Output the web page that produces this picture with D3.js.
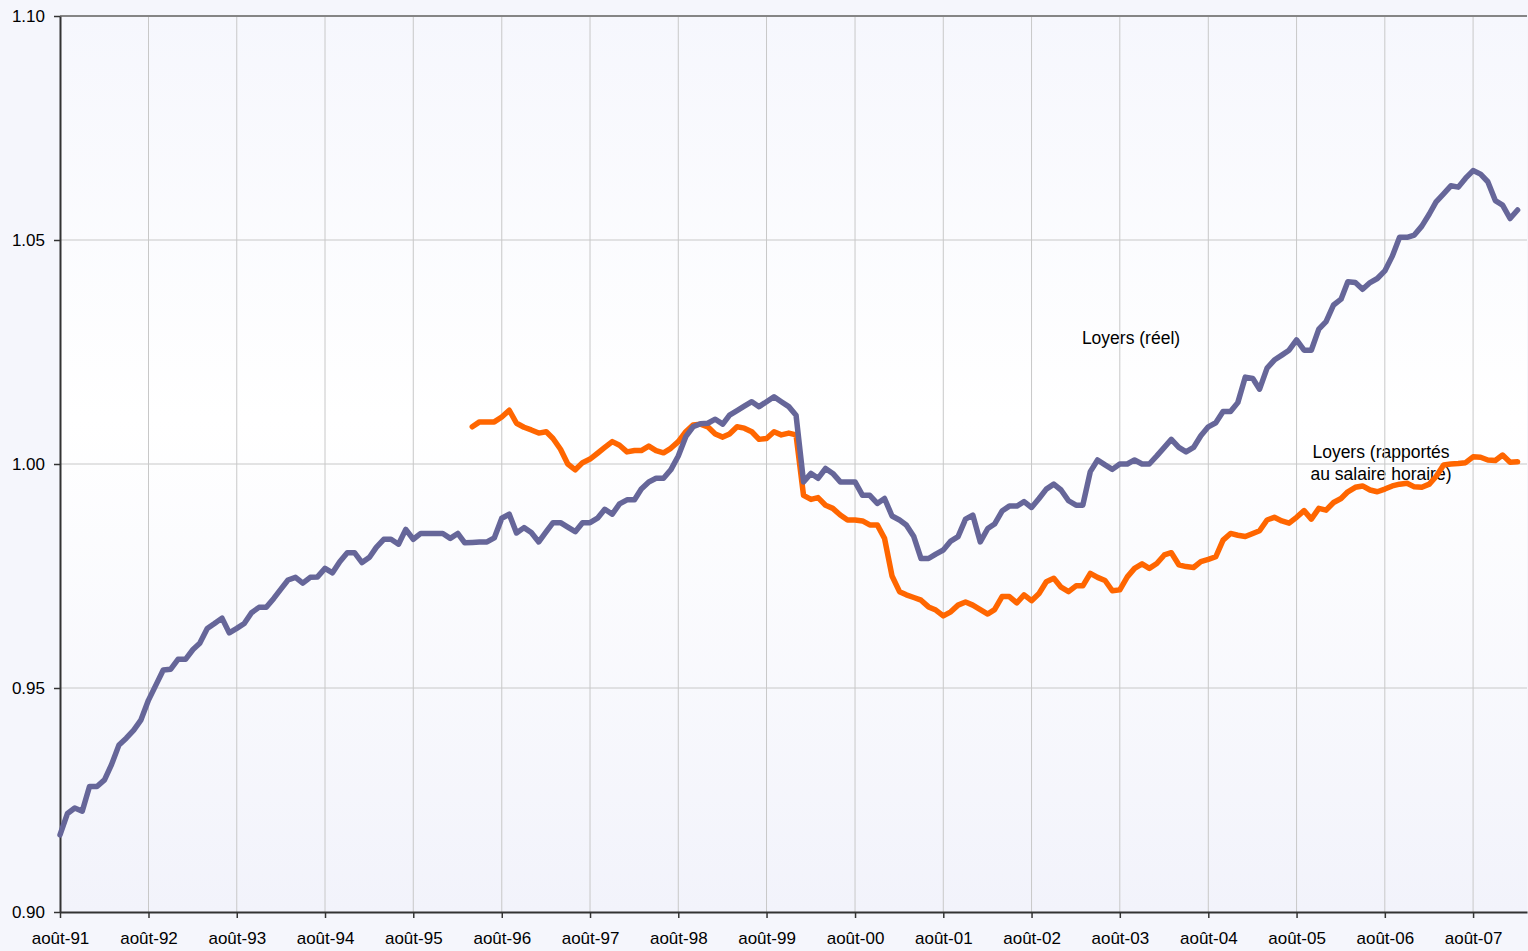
<!DOCTYPE html>
<html>
<head>
<meta charset="utf-8">
<script src="https://cdn.jsdelivr.net/npm/d3@7"></script>
<style>
  html, body { margin: 0; padding: 0; background: #f5f6fc; }
  svg { display: block; font-family: "Liberation Sans", Arial, sans-serif; }
</style>
</head>
<body>
<div id="chart"></div>
<script>
// Monthly series, starting août-91
const startMonth = new Date(1991, 7, 1);

const loyersReel = [
  0.9172, 0.9220, 0.9232, 0.9225, 0.9280, 0.9280, 0.9295, 0.9329, 0.9373, 0.9388, 0.9406, 0.9429,
  0.9473, 0.9507, 0.9540, 0.9542, 0.9564, 0.9564, 0.9586, 0.9600, 0.9633, 0.9644, 0.9656, 0.9623,
  0.9633, 0.9644, 0.9668, 0.9680, 0.9680, 0.9700, 0.9722, 0.9741, 0.9747, 0.9734, 0.9747, 0.9748,
  0.9767, 0.9757, 0.9782, 0.9802, 0.9802, 0.9780, 0.9792, 0.9814, 0.9832, 0.9832, 0.9821, 0.9854,
  0.9832, 0.9845, 0.9845, 0.9845, 0.9845, 0.9834, 0.9845, 0.9824, 0.9825, 0.9826, 0.9826, 0.9835,
  0.9879, 0.9888, 0.9846, 0.9858, 0.9847, 0.9826, 0.9849, 0.9869, 0.9869, 0.9859, 0.9849, 0.9869,
  0.9869, 0.9879, 0.9899, 0.9888, 0.9911, 0.9920, 0.9920, 0.9944, 0.9960, 0.9968, 0.9968, 0.9987,
  1.0018, 1.0061, 1.0083, 1.0090, 1.0091, 1.0100, 1.0089, 1.0109, 1.0119, 1.0129, 1.0139, 1.0128,
  1.0139, 1.0150, 1.0139, 1.0128, 1.0109, 0.9960, 0.9979, 0.9968, 0.9990, 0.9979, 0.9960, 0.9960,
  0.9960, 0.9930, 0.9930, 0.9912, 0.9923, 0.9884, 0.9875, 0.9864, 0.9838, 0.9789, 0.9789, 0.9799,
  0.9808, 0.9828, 0.9838, 0.9877, 0.9886, 0.9826, 0.9856, 0.9866, 0.9895, 0.9906, 0.9906, 0.9916,
  0.9903, 0.9923, 0.9944, 0.9955, 0.9942, 0.9918, 0.9908, 0.9908, 0.9983, 1.0009, 0.9998, 0.9988,
  1.0000, 1.0000, 1.0009, 1.0000, 1.0000, 1.0018, 1.0037, 1.0055, 1.0037, 1.0027, 1.0037, 1.0063,
  1.0083, 1.0092, 1.0117, 1.0117, 1.0137, 1.0194, 1.0191, 1.0167, 1.0214, 1.0232, 1.0243, 1.0254,
  1.0277, 1.0254, 1.0254, 1.0301, 1.0318, 1.0355, 1.0368, 1.0407, 1.0405, 1.0390, 1.0405, 1.0414,
  1.0431, 1.0464, 1.0506, 1.0506, 1.0511, 1.0531, 1.0558, 1.0585, 1.0603, 1.0621, 1.0618, 1.0638,
  1.0655, 1.0647, 1.0630, 1.0588, 1.0578, 1.0548, 1.0567
];

// starts 56 months later (avril-96)
const salaireOffset = 56;
const loyersSalaire = [
  1.0083, 1.0094, 1.0094, 1.0094,
  1.0105, 1.0120, 1.0091, 1.0082, 1.0076, 1.0069, 1.0072, 1.0057, 1.0033, 1.0000, 0.9987, 1.0003,
  1.0011, 1.0024, 1.0037, 1.0050, 1.0042, 1.0027, 1.0030, 1.0030, 1.0040, 1.0030, 1.0025, 1.0035,
  1.0050, 1.0072, 1.0087, 1.0089, 1.0083, 1.0067, 1.0060, 1.0067, 1.0083, 1.0080, 1.0072, 1.0055,
  1.0057, 1.0072, 1.0065, 1.0069, 1.0065, 0.9930, 0.9921, 0.9925, 0.9908, 0.9901, 0.9886, 0.9875,
  0.9875, 0.9873, 0.9864, 0.9864, 0.9834, 0.9750, 0.9715, 0.9708, 0.9702, 0.9696, 0.9681, 0.9674,
  0.9661, 0.9670, 0.9685, 0.9692, 0.9685, 0.9675, 0.9665, 0.9675, 0.9704, 0.9704, 0.9690, 0.9708,
  0.9695, 0.9711, 0.9737, 0.9745, 0.9725, 0.9715, 0.9728, 0.9728, 0.9756, 0.9747, 0.9740, 0.9717,
  0.9719, 0.9748, 0.9767, 0.9777, 0.9767, 0.9778, 0.9797, 0.9802, 0.9775, 0.9771, 0.9769, 0.9782,
  0.9787, 0.9793, 0.9830, 0.9845, 0.9841, 0.9838, 0.9845, 0.9851, 0.9875, 0.9881, 0.9873, 0.9868,
  0.9881, 0.9896, 0.9877, 0.9901, 0.9897, 0.9914, 0.9923, 0.9938, 0.9948, 0.9951, 0.9942, 0.9938,
  0.9944, 0.9951, 0.9955, 0.9957, 0.9949, 0.9948, 0.9955, 0.9972, 0.9998, 1.0000, 1.0001, 1.0003,
  1.0016, 1.0015, 1.0009, 1.0008, 1.0020, 1.0004, 1.0005
];

const xTickLabels = ["août-91", "août-92", "août-93", "août-94", "août-95", "août-96", "août-97",
  "août-98", "août-99", "août-00", "août-01", "août-02", "août-03", "août-04", "août-05",
  "août-06", "août-07"];
const yTicks = [0.90, 0.95, 1.00, 1.05, 1.10];

const width = 1528, height = 951;
const plotLeft = 60, plotRight = 1527, plotTop = 16, plotBottom = 912;
const fontSize = 17;

const monthDate = i => d3.timeMonth.offset(startMonth, i);
const xTickDates = xTickLabels.map((d, i) => monthDate(i * 12));

const x = d3.scaleTime()
  .domain([startMonth, new Date(2008, 2, 11)])
  .range([plotLeft, plotRight]);
const y = d3.scaleLinear().domain([0.90, 1.10]).range([plotBottom, plotTop]);

const svg = d3.select("#chart").append("svg")
  .attr("width", width).attr("height", height);

const grad = svg.append("defs").append("linearGradient")
  .attr("id", "bg").attr("x1", 0).attr("y1", 0).attr("x2", 0).attr("y2", 1);
grad.append("stop").attr("offset", "0%").attr("stop-color", "#f6f7fd");
grad.append("stop").attr("offset", "45%").attr("stop-color", "#ffffff");
grad.append("stop").attr("offset", "100%").attr("stop-color", "#f2f3fb");

svg.append("rect")
  .attr("x", plotLeft).attr("y", plotTop)
  .attr("width", plotRight - plotLeft).attr("height", plotBottom - plotTop)
  .attr("fill", "url(#bg)");

// annotations sit under the grid
const notes = svg.append("g").attr("font-size", 17.5).attr("fill", "#000").attr("text-anchor", "middle");
notes.append("text").attr("x", 1131).attr("y", 344).text("Loyers (réel)");
notes.append("text").attr("x", 1381).attr("y", 458).text("Loyers (rapportés");
notes.append("text").attr("x", 1381).attr("y", 480).text("au salaire horaire)");

// grid
svg.append("g")
  .selectAll("line")
  .data(xTickDates.slice(1))
  .join("line")
  .attr("x1", d => x(d)).attr("x2", d => x(d))
  .attr("y1", plotTop).attr("y2", plotBottom)
  .attr("stroke", "#c8c8c8").attr("stroke-width", 1);

svg.append("g")
  .selectAll("line")
  .data(yTicks.slice(1, -1))
  .join("line")
  .attr("x1", plotLeft).attr("x2", plotRight)
  .attr("y1", d => y(d)).attr("y2", d => y(d))
  .attr("stroke", "#c8c8c8").attr("stroke-width", 1);

svg.append("line")
  .attr("x1", plotLeft).attr("x2", plotRight)
  .attr("y1", y(1.10)).attr("y2", y(1.10))
  .attr("stroke", "#858585").attr("stroke-width", 2);

// axes
const xAxis = d3.axisBottom(x)
  .tickValues(xTickDates)
  .tickFormat((d, i) => xTickLabels[i])
  .tickSize(6).tickSizeOuter(0);
const gx = svg.append("g").attr("transform", `translate(0,${plotBottom})`).call(xAxis);
gx.select(".domain").attr("stroke", "#333").attr("stroke-width", 2);
gx.selectAll(".tick line").attr("stroke", "#333").attr("stroke-width", 1.5);
gx.selectAll(".tick text").attr("font-size", fontSize).attr("fill", "#000")
  .attr("y", 20).attr("dy", "0.71em")
  .attr("font-family", "Liberation Sans, Arial, sans-serif");

const yAxis = d3.axisLeft(y)
  .tickValues(yTicks)
  .tickFormat(d3.format(".2f"))
  .tickSize(6).tickSizeOuter(0);
const gy = svg.append("g").attr("transform", `translate(${plotLeft},0)`).call(yAxis);
gy.select(".domain").attr("stroke", "#333").attr("stroke-width", 2);
gy.selectAll(".tick line").attr("stroke", "#333").attr("stroke-width", 1.5);
gy.selectAll(".tick text").attr("font-size", fontSize).attr("fill", "#000").attr("x", -15)
  .attr("font-family", "Liberation Sans, Arial, sans-serif");

// lines
const line = d3.line()
  .x(d => x(d.date))
  .y(d => y(d.value));

const reel = loyersReel.map((v, i) => ({ date: monthDate(i), value: v }));
const salaire = loyersSalaire.map((v, i) => ({ date: monthDate(i + salaireOffset), value: v }));

svg.append("path")
  .datum(salaire)
  .attr("d", line)
  .attr("fill", "none")
  .attr("stroke", "#ff6600")
  .attr("stroke-width", 5.5)
  .attr("stroke-linejoin", "round")
  .attr("stroke-linecap", "round");

svg.append("path")
  .datum(reel)
  .attr("d", line)
  .attr("fill", "none")
  .attr("stroke", "#666699")
  .attr("stroke-width", 5.5)
  .attr("stroke-linejoin", "round")
  .attr("stroke-linecap", "round");
</script>
</body>
</html>
